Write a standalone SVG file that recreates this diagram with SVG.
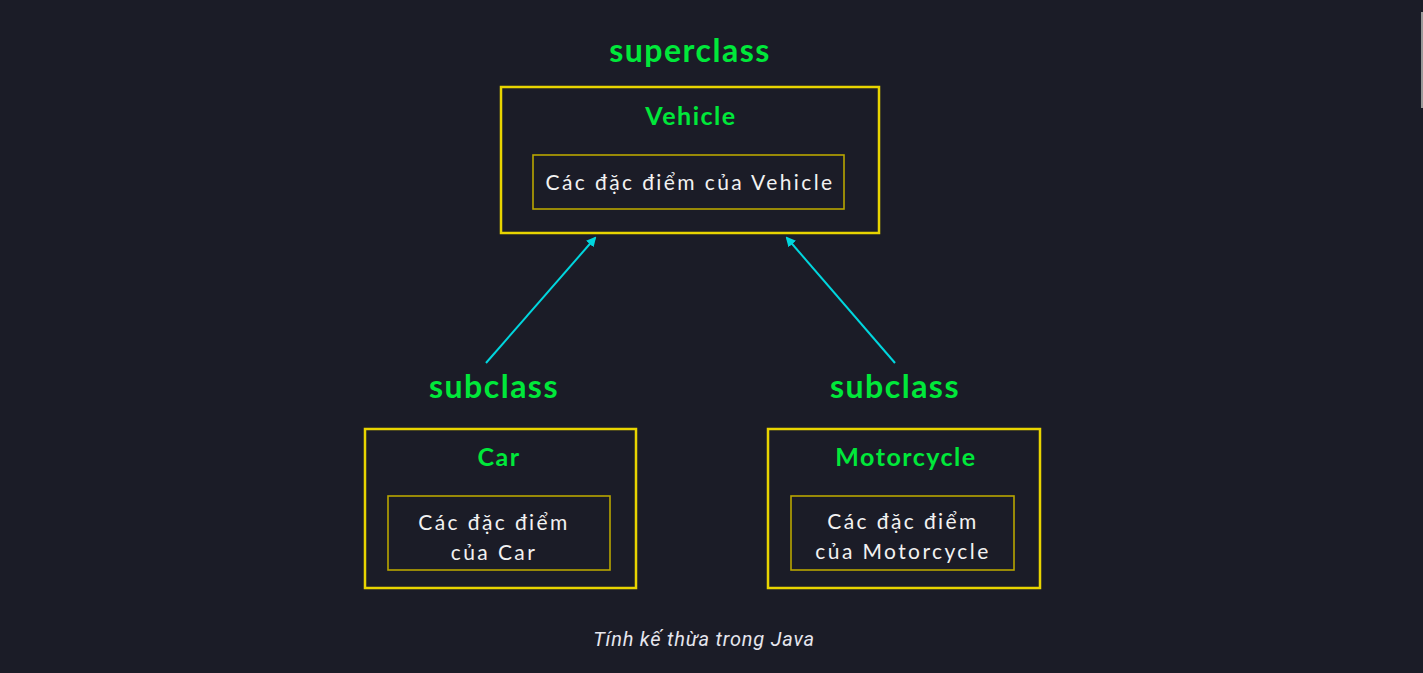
<svg xmlns="http://www.w3.org/2000/svg" width="1423" height="673" viewBox="0 0 1423 673">
<style>
.outer{fill:none;stroke:#e8d400;stroke-width:2.5}
.inner{fill:none;stroke:#b8a600;stroke-width:1.6}
.green{fill:#00e83a;font-family:Lato,"Noto Sans",sans-serif;font-weight:bold;text-anchor:middle;letter-spacing:1.5px}
.white{fill:#f2f2f2;font-family:Lato,"Noto Sans",sans-serif;font-size:21px;text-anchor:middle;letter-spacing:2.4px}
.arrow{stroke:#00d6de;stroke-width:2;fill:none}
</style>
<defs>
<marker id="ah" markerWidth="10" markerHeight="10" refX="8" refY="5" orient="auto" markerUnits="userSpaceOnUse">
<path d="M0,0 L10,5 L0,10 z" fill="#00d6de"/>
</marker>
</defs>
<rect width="1423" height="673" fill="#1b1c27"/>
<rect x="1421" y="12" width="2" height="96" fill="#9a9a9a"/>
<text class="green" x="690" y="62" font-size="32">superclass</text>
<g id="vehicle">
<rect class="outer" x="501" y="87" width="378" height="146"/>
<text class="green" x="691" y="125" font-size="25">Vehicle</text>
<rect class="inner" x="533" y="155" width="311" height="54"/>
<text class="white" x="690" y="190">Các đặc điểm của Vehicle</text>
</g>
<text class="green" x="494" y="398" font-size="32">subclass</text>
<text class="green" x="895" y="398" font-size="32">subclass</text>
<g id="car">
<rect class="outer" x="365" y="429" width="271" height="159"/>
<text class="green" x="499" y="466" font-size="25">Car</text>
<rect class="inner" x="388" y="496" width="222" height="74"/>
<text class="white" x="494" y="530">Các đặc điểm</text>
<text class="white" x="494" y="560">của Car</text>
</g>
<g id="motorcycle">
<rect class="outer" x="768" y="429" width="272" height="159"/>
<text class="green" x="906" y="466" font-size="25">Motorcycle</text>
<rect class="inner" x="791" y="496" width="223" height="74"/>
<text class="white" x="903" y="529">Các đặc điểm</text>
<text class="white" x="903" y="559">của Motorcycle</text>
</g>
<g id="connectors">
<line class="arrow" x1="486" y1="363" x2="595" y2="238" marker-end="url(#ah)"/>
<line class="arrow" x1="895" y1="363" x2="787" y2="238" marker-end="url(#ah)"/>
</g>
<text x="704" y="646" font-family="Roboto,Inter,sans-serif" font-style="italic" font-size="20" letter-spacing="0.8" fill="#e6e6ee" text-anchor="middle">Tính kế thừa trong Java</text>
</svg>
